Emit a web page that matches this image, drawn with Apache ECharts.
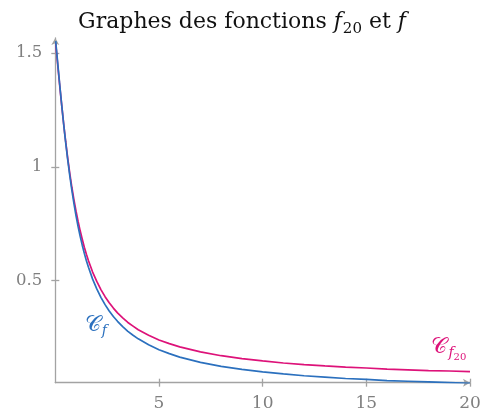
<!DOCTYPE html>
<html>
<head>
<meta charset="utf-8">
<script src="https://cdn.jsdelivr.net/npm/echarts@6/dist/echarts.min.js"></script>
<style>html,body{margin:0;padding:0;background:#fff}#c{width:485px;height:412px}</style>
</head>
<body>
<div id="c"></div>
<script>
const xValues = [0.02, 0.05, 0.1, 0.15, 0.2, 0.25, 0.3, 0.35, 0.4, 0.45, 0.5, 0.6, 0.7, 0.8, 0.9, 1.0, 1.1, 1.2, 1.3, 1.4, 1.5, 1.6, 1.8, 2.0, 2.2, 2.4, 2.6, 2.8, 3.0, 3.25, 3.5, 3.75, 4.0, 4.5, 5, 5.5, 6, 7, 8, 9, 10, 11, 12, 13, 14, 15, 16, 17, 18, 19, 20];
const fValues = [1.551, 1.521, 1.471, 1.422, 1.373, 1.326, 1.279, 1.234, 1.190, 1.148, 1.107, 1.030, 0.960, 0.896, 0.838, 0.785, 0.738, 0.695, 0.656, 0.620, 0.588, 0.559, 0.507, 0.464, 0.427, 0.395, 0.367, 0.343, 0.322, 0.299, 0.278, 0.261, 0.245, 0.219, 0.197, 0.180, 0.165, 0.142, 0.124, 0.111, 0.100, 0.091, 0.083, 0.077, 0.071, 0.067, 0.062, 0.059, 0.056, 0.053, 0.050];
const f20Values = [1.541, 1.512, 1.463, 1.415, 1.368, 1.322, 1.277, 1.234, 1.191, 1.150, 1.111, 1.037, 0.970, 0.909, 0.855, 0.805, 0.760, 0.719, 0.682, 0.647, 0.616, 0.588, 0.538, 0.497, 0.461, 0.430, 0.403, 0.380, 0.359, 0.337, 0.317, 0.301, 0.285, 0.261, 0.240, 0.224, 0.210, 0.188, 0.171, 0.158, 0.148, 0.139, 0.132, 0.126, 0.121, 0.117, 0.112, 0.109, 0.106, 0.104, 0.101];
const xTicks = [5, 10, 15, 20];
const yTicks = [0.5, 1, 1.5];
const labelCf = [1.96, 0.306];
const labelCf20 = [18.98, 0.209];

const BLUE = '#2b70be';
const MAG = '#dd1279';
const AX = '#a3a3a3';
const LBL = '#7f7f7f';
const SERIF = '"DejaVu Serif", serif';

const zip = (xs, ys) => xs.map((x, i) => [x, ys[i]]);

const chart = echarts.init(document.getElementById('c'), null, {renderer: 'canvas'});
const xMin = 0, xMax = 20, yMin = 0.0526, yMax = 1.565;

function xAxisDef(inside, main) {
  return {
    type: 'value', min: xMin, max: xMax, position: 'bottom',
    axisLine: {show: main, onZero: false, lineStyle: {color: AX, width: 1.3}, symbol: ['none', 'arrow'], symbolSize: [6, 7]},
    axisTick: {show: true, inside: inside, length: 4, customValues: xTicks, lineStyle: {color: AX, width: 1.3}},
    axisLabel: {show: main, customValues: xTicks, color: LBL, fontFamily: SERIF, fontSize: 17, margin: 12},
    splitLine: {show: false}
  };
}
function yAxisDef(inside, main) {
  return {
    type: 'value', min: yMin, max: yMax, position: 'left',
    axisLine: {show: main, onZero: false, lineStyle: {color: AX, width: 1.3}, symbol: ['none', 'arrow'], symbolSize: [6, 7]},
    axisTick: {show: true, inside: inside, length: 4, customValues: yTicks, lineStyle: {color: AX, width: 1.3}},
    axisLabel: {show: main, customValues: yTicks, color: LBL, fontFamily: SERIF, fontSize: 16.5, margin: 13,
      formatter: v => String(v)},
    splitLine: {show: false}
  };
}

chart.setOption({
  animation: false,
  title: {
    text: '{n|Graphes des fonctions }{i|f}{s|20}{n| et }{i|f}',
    left: 'center', top: 6,
    textStyle: {
      fontWeight: 'normal',
      rich: {
        n: {fontFamily: SERIF, fontSize: 22, fontWeight: 'normal', color: '#111', padding: [0, 0, 4, 0], verticalAlign: 'bottom'},
        i: {fontFamily: SERIF, fontSize: 22, fontWeight: 'normal', fontStyle: 'italic', color: '#111', padding: [0, 1, 4, 0], verticalAlign: 'bottom'},
        s: {fontFamily: SERIF, fontSize: 15, fontWeight: 'normal', color: '#111', verticalAlign: 'bottom', padding: [0, 0, 0, 0]}
      }
    }
  },
  grid: {left: 55.3, right: 15, top: 38, bottom: 29.3, containLabel: false},
  xAxis: [xAxisDef(false, true), xAxisDef(true, false)],
  yAxis: [yAxisDef(false, true), yAxisDef(true, false)],
  series: [
    {
      name: 'f', type: 'line', xAxisIndex: 0, yAxisIndex: 0,
      data: zip(xValues, fValues), showSymbol: false, smooth: false,
      lineStyle: {color: BLUE, width: 1.7}, itemStyle: {color: BLUE}, z: 3,
      markPoint: {
        symbol: 'circle', symbolSize: 0,
        label: {show: true, position: 'inside', formatter: '{c|𝒞}{s|f}',
          rich: {c: {fontSize: 22, color: BLUE, fontFamily: '"DejaVu Serif", serif'},
                 s: {fontSize: 14, color: BLUE, fontFamily: SERIF, fontStyle: 'italic', padding: [12, 0, 0, 1]}}},
        data: [{coord: labelCf}]
      }
    },
    {
      name: 'f20', type: 'line', xAxisIndex: 0, yAxisIndex: 0,
      data: zip(xValues, f20Values), showSymbol: false, smooth: false,
      lineStyle: {color: MAG, width: 1.7}, itemStyle: {color: MAG}, z: 2,
      markPoint: {
        symbol: 'circle', symbolSize: 0,
        label: {show: true, position: 'inside', formatter: '{c|𝒞}{s|f}{t|20}',
          rich: {c: {fontSize: 22, color: MAG, fontFamily: '"DejaVu Serif", serif'},
                 s: {fontSize: 14, color: MAG, fontFamily: SERIF, fontStyle: 'italic', padding: [12, 0, 0, 1]},
                 t: {fontSize: 10, color: MAG, fontFamily: SERIF, padding: [20, 0, 0, 0]}}},
        data: [{coord: labelCf20}]
      }
    }
  ]
});
</script>
</body>
</html>
